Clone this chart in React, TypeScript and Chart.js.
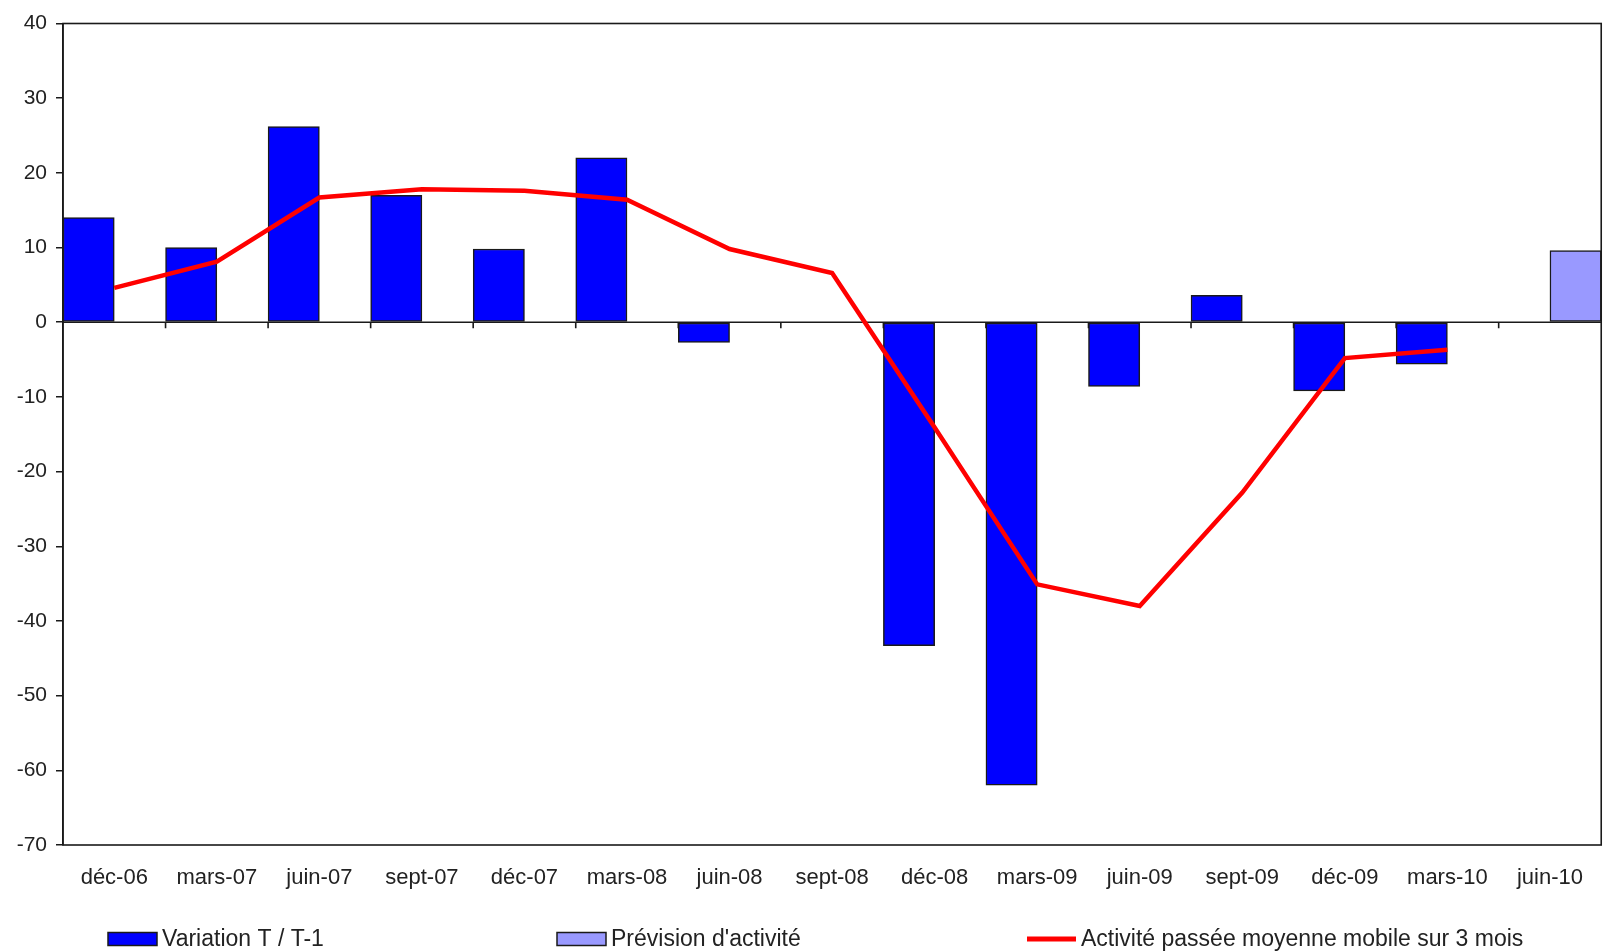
import React, { useEffect, useRef } from "react";
import { Chart, registerables } from "chart.js";

Chart.register(...registerables);

const categories = [
  "déc-06", "mars-07", "juin-07", "sept-07", "déc-07", "mars-08", "juin-08", "sept-08",
  "déc-08", "mars-09", "juin-09", "sept-09", "déc-09", "mars-10", "juin-10",
];

const variation: (number | null)[] = [14, 10, 26.2, 17, 9.8, 22, -2.7, 0, -43.3, -62, -8.6, 3.6, -9.2, -5.6, null];
const prevision: (number | null)[] = [null, null, null, null, null, null, null, null, null, null, null, null, null, null, 9.6];
const moyenneMobile: (number | null)[] = [4.6, 8.1, 16.7, 17.8, 17.6, 16.4, 9.8, 6.6, -14.1, -35.1, -38, -22.8, -4.8, -3.7, null];

const yMin = -70;
const yMax = 40;
const yStep = 10;

const seriesNames = ["Variation T / T-1", "Prévision d'activité", "Activité passée moyenne mobile sur 3 mois"];

const FONT = "'Liberation Sans', Arial, sans-serif";
const TEXT = "#222";
const AXIS = "#1a1a1a";

const framePlugin = {
  id: "frameAndZero",
  beforeDatasetsDraw(chart: any) {
    const { ctx, chartArea, scales } = chart;
    const x = scales.x;
    const y = scales.y;
    const y0 = y.getPixelForValue(0);
    ctx.save();
    ctx.strokeStyle = AXIS;
    ctx.lineWidth = 1.6;
    ctx.strokeRect(chartArea.left, chartArea.top, chartArea.right - chartArea.left, chartArea.bottom - chartArea.top);
    ctx.beginPath();
    ctx.moveTo(chartArea.left, y0);
    ctx.lineTo(chartArea.right, y0);
    const n = categories.length;
    for (let i = 1; i < n; i++) {
      const px = (x.getPixelForValue(i - 1) + x.getPixelForValue(i)) / 2;
      ctx.moveTo(px, y0);
      ctx.lineTo(px, y0 + 6);
    }
    ctx.stroke();
    ctx.restore();
  },
};

const legendPlugin = {
  id: "excelLegend",
  afterDraw(chart: any) {
    const { ctx, width, height } = chart;
    const starts = [108 / 1603, 557 / 1603, 1027 / 1603];
    const cy = height - 13;
    ctx.save();
    ctx.font = `23px ${FONT}`;
    ctx.textBaseline = "middle";
    ctx.textAlign = "left";
    chart.data.datasets.forEach((ds: any, i: number) => {
      const x0 = starts[i] * width;
      if (ds.type === "line") {
        ctx.strokeStyle = ds.borderColor;
        ctx.lineWidth = 5;
        ctx.beginPath();
        ctx.moveTo(x0, cy);
        ctx.lineTo(x0 + 49, cy);
        ctx.stroke();
      } else {
        ctx.fillStyle = ds.backgroundColor;
        ctx.fillRect(x0, cy - 6.5, 49, 13);
        ctx.strokeStyle = AXIS;
        ctx.lineWidth = 1.5;
        ctx.strokeRect(x0, cy - 6.5, 49, 13);
      }
      ctx.fillStyle = TEXT;
      ctx.fillText(ds.label, x0 + 54, cy + 1);
    });
    ctx.restore();
  },
};

export default function App() {
  const ref = useRef<HTMLCanvasElement | null>(null);

  useEffect(() => {
    if (!ref.current) return;
    const chart = new Chart(ref.current, {
      type: "bar",
      data: {
        labels: categories,
        datasets: [
          {
            type: "bar",
            label: seriesNames[0],
            data: variation,
            backgroundColor: "#0000FF",
            borderColor: AXIS,
            borderWidth: 1.5,
            borderSkipped: false,
            categoryPercentage: 1,
            barPercentage: 1,
            order: 2,
          },
          {
            type: "bar",
            label: seriesNames[1],
            data: prevision,
            backgroundColor: "#9999FF",
            borderColor: AXIS,
            borderWidth: 1.5,
            borderSkipped: false,
            categoryPercentage: 1,
            barPercentage: 1,
            order: 2,
          },
          {
            type: "line",
            label: seriesNames[2],
            data: moyenneMobile,
            borderColor: "#FF0000",
            backgroundColor: "#FF0000",
            borderWidth: 4.5,
            pointRadius: 0,
            tension: 0,
            order: 1,
          },
        ] as any,
      },
      options: {
        responsive: false,
        animation: false,
        layout: { padding: { top: 23.5, right: 1, left: 0, bottom: 0 } },
        plugins: {
          legend: { display: false },
          tooltip: { enabled: false },
        },
        scales: {
          x: {
            offset: true,
            grid: { display: false, drawTicks: false },
            border: { display: false },
            ticks: {
              color: TEXT,
              font: { family: FONT, size: 22 },
              padding: 20,
              maxRotation: 0,
              autoSkip: false,
            },
            afterFit(scale: any) {
              scale.height = 107;
            },
          },
          y: {
            min: yMin,
            max: yMax,
            ticks: {
              stepSize: yStep,
              color: TEXT,
              font: { family: FONT, size: 21 },
              padding: 9,
            },
            grid: {
              drawOnChartArea: false,
              drawTicks: true,
              tickLength: 7,
              color: AXIS,
              lineWidth: 1.5,
            },
            border: { display: true, color: AXIS, width: 1.6 },
            afterFit(scale: any) {
              scale.width = 63;
            },
          },
        },
      },
      plugins: [framePlugin, legendPlugin],
    });
    return () => chart.destroy();
  }, []);

  return (
    <div style={{ position: "absolute", left: 0, top: 0, width: 1603, height: 952, background: "#fff" }}>
      <canvas ref={ref} width={1603} height={952} />
    </div>
  );
}
